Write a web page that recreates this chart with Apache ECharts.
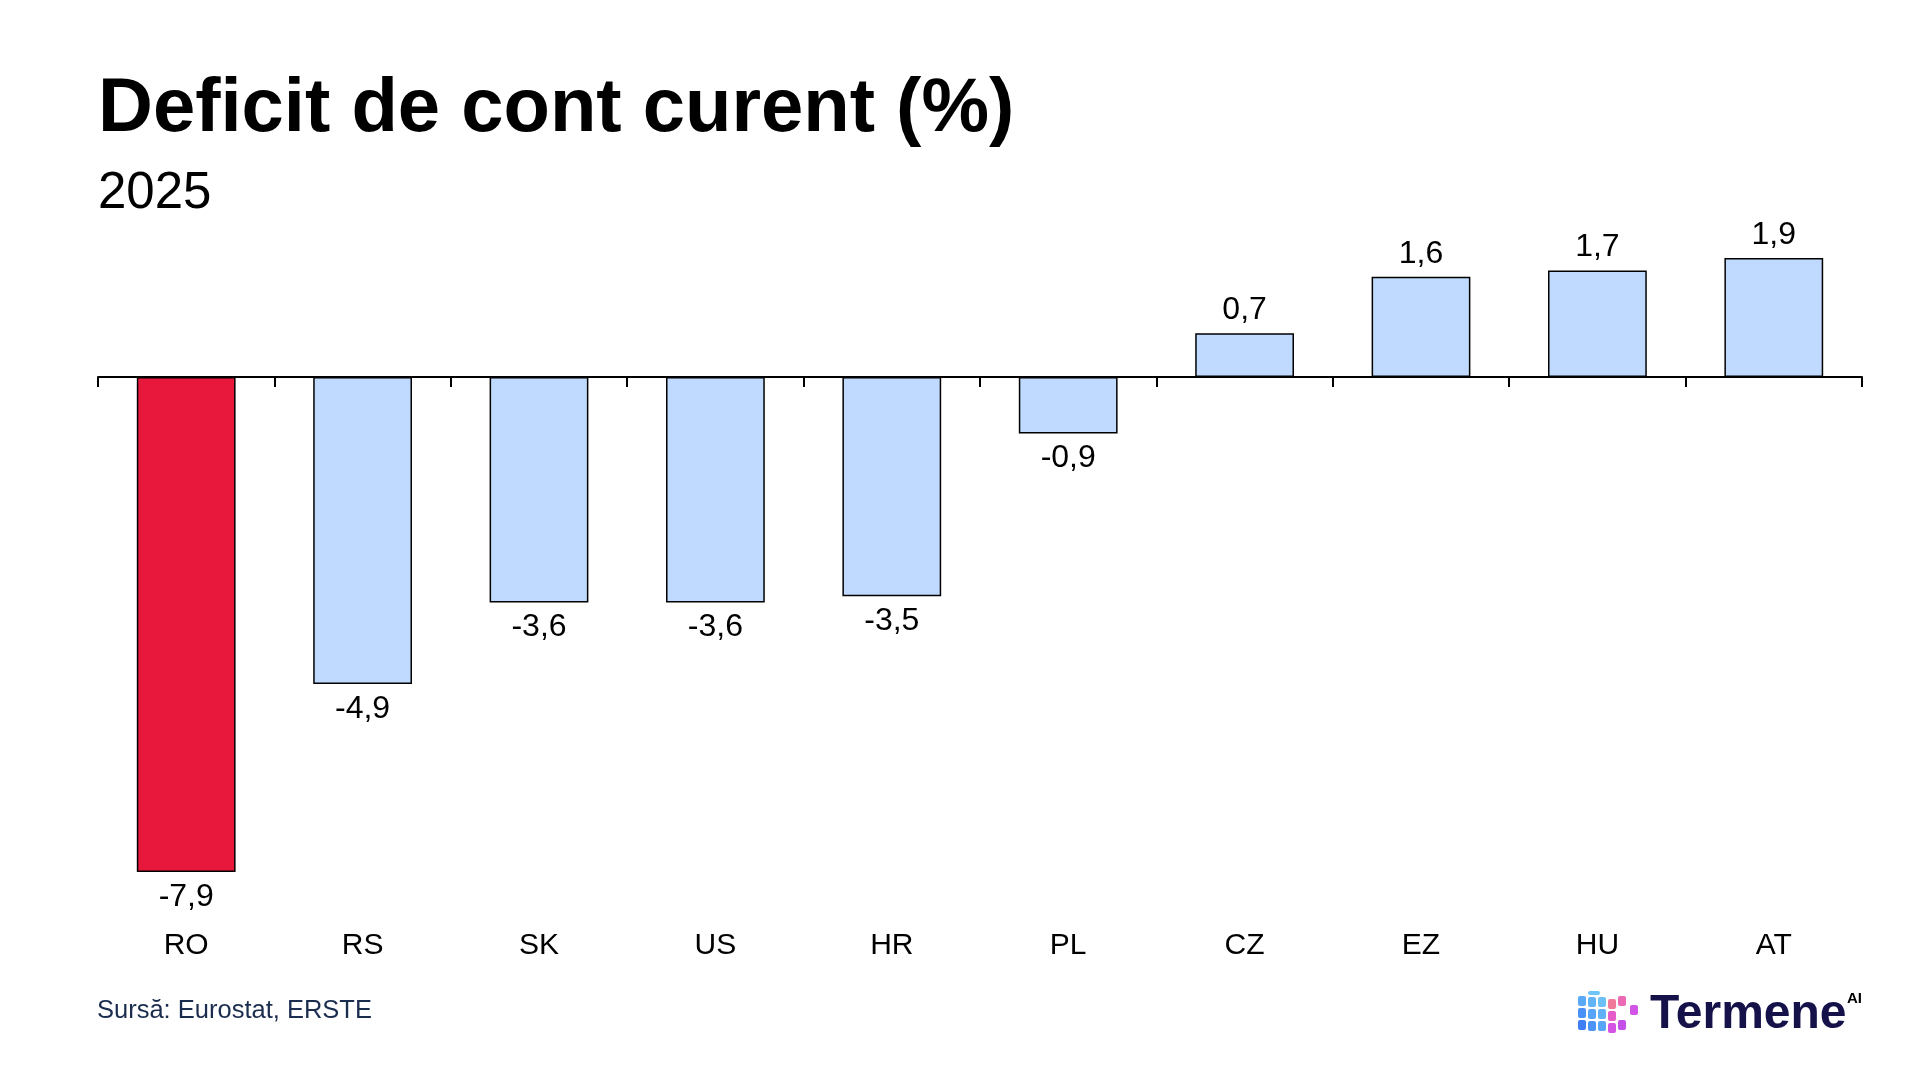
<!DOCTYPE html>
<html>
<head>
<meta charset="utf-8">
<script src="https://cdn.jsdelivr.net/npm/echarts@6/dist/echarts.min.js"></script>
<style>
  html, body { margin: 0; padding: 0; background: #ffffff; }
  #chart { width: 1920px; height: 1080px; }
</style>
</head>
<body>
<div id="chart"></div>
<script>
const titleText = 'Deficit de cont curent (%)';
const subtitleText = '2025';
const sourceText = 'Sursă: Eurostat, ERSTE';
const categories = ['RO', 'RS', 'SK', 'US', 'HR', 'PL', 'CZ', 'EZ', 'HU', 'AT'];
const values = [-7.9, -4.9, -3.6, -3.6, -3.5, -0.9, 0.7, 1.6, 1.7, 1.9];
const highlighted = ['RO'];

const RED = '#E8183C';
const BLUE = '#BFDAFE';
const FONT = '"Liberation Sans", Arial, Helvetica, sans-serif';

const fmt = v => v.toFixed(1).replace('.', ',');

const seriesData = values.map((v, i) => ({
  value: v,
  itemStyle: { color: highlighted.includes(categories[i]) ? RED : BLUE },
  label: { position: v >= 0 ? 'top' : 'bottom', distance: v >= 0 ? 7 : 9 }
}));

// logo cube cells
const cubeCells = [];
const cubeColors = [
  ['#5aa8f8', '#62b4f8', '#6cc0f6'],
  ['#4a90f6', '#58a4f8', '#62b0f8'],
  ['#3f7ef4', '#4c94f6', '#58a4f6']
];
for (let r = 0; r < 3; r++) {
  for (let c = 0; c < 3; c++) {
    cubeCells.push({
      type: 'rect',
      shape: { x: 1578 + c * 10, y: 996 + r * 12 + (c === 0 ? 0 : 1) , width: 8, height: 10, r: 2 },
      style: { fill: cubeColors[r][c] }
    });
  }
}
const rightCells = [
  { x: 1608, y: 999, fill: '#f07a9a' },
  { x: 1618, y: 996, fill: '#ec6ab4' },
  { x: 1608, y: 1011, fill: '#e65cc8' },
  { x: 1630, y: 1005, fill: '#d256e6' },
  { x: 1608, y: 1023, fill: '#d452e4' },
  { x: 1618, y: 1020, fill: '#c44ee8' }
];
rightCells.forEach(c => cubeCells.push({
  type: 'rect',
  shape: { x: c.x, y: c.y, width: 8, height: 10, r: 2 },
  style: { fill: c.fill }
}));
cubeCells.push({
  type: 'rect',
  shape: { x: 1588, y: 991, width: 12, height: 4, r: 2 },
  style: { fill: '#6cc6f8' }
});

const chart = echarts.init(document.getElementById('chart'), null, { renderer: 'canvas' });
chart.setOption({
  backgroundColor: '#ffffff',
  animation: false,
  grid: { left: 98, right: 58, top: 251.7, height: 626.5, containLabel: false },
  xAxis: [
    {
      type: 'category',
      data: categories,
      position: 'top',
      axisLine: { show: true, onZero: true, lineStyle: { color: '#000000', width: 2 } },
      axisTick: { show: true, inside: true, length: 10, alignWithLabel: false, lineStyle: { color: '#000000', width: 2 } },
      axisLabel: { show: false },
      splitLine: { show: false }
    },
    {
      type: 'category',
      data: categories,
      position: 'bottom',
      axisLine: { show: false, onZero: false },
      axisTick: { show: false },
      axisLabel: { show: true, margin: 53, fontSize: 30, color: '#000000', fontFamily: FONT },
      splitLine: { show: false }
    }
  ],
  yAxis: {
    type: 'value',
    min: -8,
    max: 2,
    interval: 1,
    show: false,
    splitLine: { show: false }
  },
  series: [{
    type: 'bar',
    xAxisIndex: 0,
    data: seriesData,
    barCategoryGap: '44%',
    itemStyle: { borderColor: '#000000', borderWidth: 1.5 },
    label: {
      show: true,
      fontSize: 32,
      color: '#000000',
      fontFamily: FONT,
      formatter: p => fmt(p.value)
    }
  }],
  graphic: [
    {
      type: 'text',
      style: { text: titleText, x: 98, y: 110, verticalAlign: 'middle', fill: '#000000', font: 'bold 76px ' + FONT }
    },
    {
      type: 'text',
      style: { text: subtitleText, x: 98, y: 194, verticalAlign: 'middle', fill: '#000000', font: '51px ' + FONT }
    },
    {
      type: 'text',
      style: { text: sourceText, x: 97, y: 1010.5, verticalAlign: 'middle', fill: '#1b2d4f', font: '25.5px ' + FONT }
    },
    {
      type: 'group',
      children: cubeCells
    },
    {
      type: 'text',
      style: { text: 'Termene', x: 1650, y: 1015, verticalAlign: 'middle', fill: '#15124a', font: 'bold 48px ' + FONT }
    },
    {
      type: 'text',
      style: {
        text: 'AI', x: 1847, y: 999, verticalAlign: 'middle', font: 'bold 15px ' + FONT,
        fill: new echarts.graphic.LinearGradient(0, 0, 1, 0, [
          { offset: 0, color: '#f5a623' },
          { offset: 1, color: '#b24de8' }
        ])
      }
    }
  ]
});
</script>
</body>
</html>
